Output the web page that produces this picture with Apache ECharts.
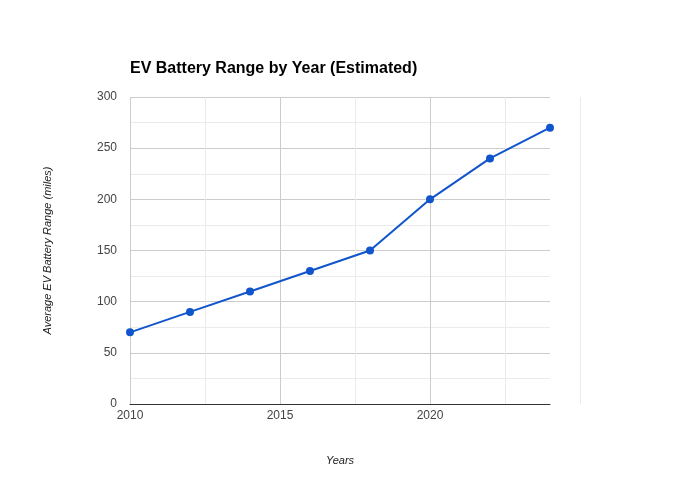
<!DOCTYPE html>
<html>
<head>
<meta charset="utf-8">
<script src="https://cdn.jsdelivr.net/npm/echarts@6/dist/echarts.min.js"></script>
<style>html,body{margin:0;padding:0;background:#fff}#c{width:680px;height:500px}</style>
</head>
<body>
<div id="c"></div>
<script>
var years = [2010, 2012, 2014, 2016, 2018, 2020, 2022, 2024];
var ranges = [70, 90, 110, 130, 150, 200, 240, 270];
var titleText = 'EV Battery Range by Year (Estimated)';
var xName = 'Years';
var yName = 'Average EV Battery Range (miles)';

var font = 'Arial, "Liberation Sans", sans-serif';
var chart = echarts.init(document.getElementById('c'));
chart.setOption({
  animation: false,
  backgroundColor: '#fff',
  title: {
    text: titleText, left: 125, top: 56,
    textStyle: {fontFamily: font, fontSize: 16, fontWeight: 'bold', color: '#000'}
  },
  grid: [
    {left: 130, right: 130, top: 97, bottom: 96},
    {left: 550, right: 100, top: 97, bottom: 96}
  ],
  xAxis: [{
    type: 'value', min: 2010, max: 2024, interval: 5,
    name: xName, nameLocation: 'middle', nameGap: 51,
    nameTextStyle: {fontFamily: font, fontSize: 11, fontStyle: 'italic', color: '#222'},
    axisLine: {show: true, onZero: false, lineStyle: {color: '#333', width: 1}},
    axisTick: {show: false},
    axisLabel: {fontFamily: font, fontSize: 12, color: '#444', margin: 6, showMaxLabel: false,
      formatter: function (v) { return String(v); }},
    splitLine: {show: true, lineStyle: {color: ['#cccccc', '#cccccc', '#cccccc', 'rgba(0,0,0,0)'], width: 1}},
    minorTick: {show: false, splitNumber: 2},
    minorSplitLine: {show: true, lineStyle: {color: '#ebebeb', width: 1}}
  }, {
    gridIndex: 1, type: 'value', min: 2024, max: 2025, interval: 1,
    axisLine: {show: false}, axisTick: {show: false}, axisLabel: {show: false},
    splitLine: {show: true, lineStyle: {color: ['rgba(0,0,0,0)', '#ebebeb'], width: 1}}
  }],
  yAxis: [{
    type: 'value', min: 0, max: 300, interval: 50,
    name: yName, nameLocation: 'middle', nameGap: 77, nameRotate: 90,
    nameTextStyle: {fontFamily: font, fontSize: 11, fontStyle: 'italic', color: '#222'},
    axisLine: {show: false}, axisTick: {show: false},
    axisLabel: {fontFamily: font, fontSize: 12, color: '#444', margin: 13},
    splitLine: {show: true, lineStyle: {color: '#cccccc', width: 1}},
    minorTick: {show: false, splitNumber: 2},
    minorSplitLine: {show: true, lineStyle: {color: '#ebebeb', width: 1}}
  }, {
    gridIndex: 1, type: 'value', min: 0, max: 300,
    axisLine: {show: false}, axisTick: {show: false}, axisLabel: {show: false}, splitLine: {show: false}
  }],
  series: [{
    type: 'line',
    data: years.map(function (y, i) { return [y, ranges[i]]; }),
    lineStyle: {color: '#1155cc', width: 2},
    itemStyle: {color: '#1155cc'},
    symbol: 'circle', symbolSize: 8,
    z: 5
  }]
});
</script>
</body>
</html>
